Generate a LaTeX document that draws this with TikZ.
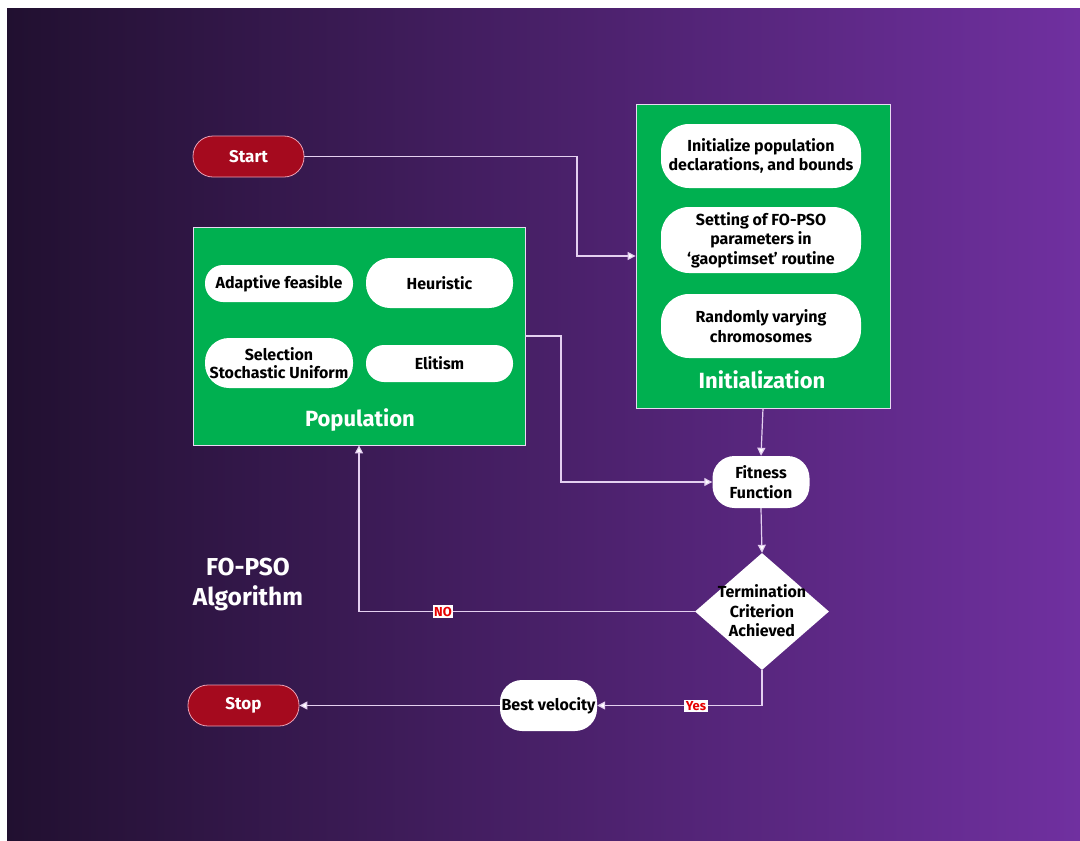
\documentclass[tikz,border=0pt]{standalone}
\usepackage{fontspec}
\setmainfont{Fira Sans}
\usetikzlibrary{arrows.meta,shapes.geometric}

\definecolor{bgleft}{RGB}{33,16,48}
\definecolor{bgright}{RGB}{112,48,160}
\definecolor{groupgreen}{RGB}{0,176,80}
\definecolor{termred}{RGB}{165,10,30}
\definecolor{termedge}{RGB}{235,160,180}
\definecolor{wire}{RGB}{228,208,240}
\definecolor{labelred}{RGB}{230,0,0}

\tikzset{
  txt/.style={font=\fontsize{16}{19.5}\selectfont\bfseries, text=black, align=center},
  pill/.style={txt, fill=white, draw=none, inner sep=0pt},
  terminal/.style={fill=termred, draw=termedge, line width=0.8pt, rounded corners=20pt,
    minimum width=111pt, minimum height=41pt, inner sep=0pt,
    font=\fontsize{17}{19}\selectfont\bfseries, text=white},
  group/.style={fill=groupgreen, draw=wire!80!white, line width=0.8pt, inner sep=0pt},
  grouptitle/.style={font=\fontsize{22}{24}\selectfont\bfseries, text=white},
  conn/.style={draw=wire, line width=1.2pt, -{Triangle[width=8pt,length=8pt,fill=white]}},
  flag/.style={fill=white, text=labelred, inner sep=1.5pt, font=\fontsize{13}{15}\selectfont\bfseries}
}

\begin{document}
\begin{tikzpicture}[x=1pt,y=-1pt]
  % canvas and gradient backdrop
  \useasboundingbox[fill=white] (0,0) rectangle (1080,841);
  \shade[left color=bgleft, right color=bgright] (7,8) rectangle (1080,841);

  % terminals
  \node[terminal] (start) at (248.5,156.5) {Start};
  \node[terminal] (stop) at (243.5,705.5) {Stop};

  % population group
  \node[group, minimum width=332pt, minimum height=218pt] (pop) at (359,336) {};
  \node[grouptitle] (poptitle) at (360,420) {Population};
  \node[pill, rounded corners=18pt, minimum width=148pt, minimum height=37pt] (adapt) at (279,283.5) {Adaptive feasible};
  \node[pill, rounded corners=24pt, minimum width=147pt, minimum height=50pt] (heur) at (439.5,283) {Heuristic};
  \node[pill, rounded corners=24pt, minimum width=148pt, minimum height=50pt] (sel) at (279,363) {Selection\\[-1pt]Stochastic Uniform};
  \node[pill, rounded corners=18pt, minimum width=147pt, minimum height=37pt] (elit) at (439.5,363.5) {Elitism};

  % initialization group
  \node[group, minimum width=254pt, minimum height=304pt] (init) at (763,256) {};
  \node[grouptitle] (inittitle) at (762,380) {Initialization};
  \node[pill, rounded corners=28pt, minimum width=200pt, minimum height=64pt] (i1) at (761,156) {Initialize population\\declarations, and bounds};
  \node[pill, rounded corners=28pt, minimum width=200pt, minimum height=66pt] (i2) at (761,240) {Setting of FO-PSO\\parameters in\\`gaoptimset' routine};
  \node[pill, rounded corners=28pt, minimum width=200pt, minimum height=64pt] (i3) at (761,326) {Randomly varying\\chromosomes};

  % evaluation and decision
  \node[pill, rounded corners=22pt, minimum width=97pt, minimum height=52pt] (fit) at (761,482) {Fitness\\Function};
  \node[diamond, fill=white, minimum width=134pt, minimum height=117pt, inner sep=0pt] (term) at (762,611.5) {};
  \node[txt] (termtext) at (762,611) {Termination\\Criterion\\Achieved};
  \node[pill, rounded corners=22pt, minimum width=97pt, minimum height=51pt] (best) at (548.5,705.5) {Best velocity};

  % caption
  \node[font=\fontsize{24.5}{30}\selectfont\bfseries, text=white, align=center] (caption) at (248,585) {FO-PSO\\Algorithm};

  % connectors
  \coordinate (b1) at (577,156.5);
  \coordinate (b2) at (561,336);
  \coordinate (b3) at (359,611.5);
  \coordinate (b4) at (762,705.5);
  \draw[conn] (start.east) -- (b1) |- (init.west);
  \draw[conn] (pop.east) -- (b2) |- (fit.west);
  \draw[conn] (init.south) -- (fit.north);
  \draw[conn] (fit.south) -- (term.north);
  \draw[conn] (term.west) -- (b3) -- (pop.south);
  \draw[conn] (term.south) -- (b4) -- (best.east);
  \draw[conn] (best.west) -- (stop.east);

  % branch labels
  \node[flag] (no) at (443,611.5) {NO};
  \node[flag] (yes) at (696,706) {Yes};
\end{tikzpicture}
\end{document}
